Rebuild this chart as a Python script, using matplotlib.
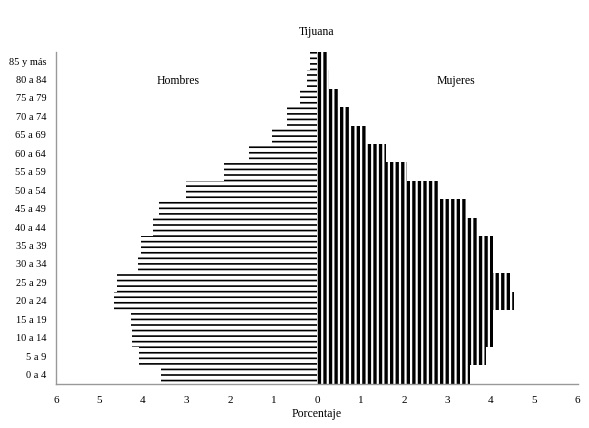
import matplotlib.pyplot as plt

grupos = ['0 a 4', '5 a 9', '10 a 14', '15 a 19', '20 a 24', '25 a 29', '30 a 34',
          '35 a 39', '40 a 44', '45 a 49', '50 a 54', '55 a 59', '60 a 64', '65 a 69',
          '70 a 74', '75 a 79', '80 a 84', '85 y más']
hombres = [3.59, 4.09, 4.25, 4.28, 4.67, 4.60, 4.12, 4.05, 3.77, 3.63,
           3.01, 2.14, 1.56, 1.03, 0.69, 0.39, 0.23, 0.16]
mujeres = [3.53, 3.90, 4.06, 4.06, 4.54, 4.43, 4.06, 4.04, 3.69, 3.42,
           2.84, 2.08, 1.60, 1.12, 0.75, 0.50, 0.27, 0.25]
xticks = [-6, -5, -4, -3, -2, -1, 0, 1, 2, 3, 4, 5, 6]

plt.rcParams['font.family'] = ['Liberation Serif', 'DejaVu Serif']

fig = plt.figure(figsize=(5.89, 4.28), dpi=100)
ax = fig.add_axes([0.095, 0.103, 0.886, 0.776])

ind = list(range(len(grupos)))
neg = [-v for v in hombres]
b1 = ax.barh(ind, neg, height=1.0, color='white', edgecolor='black',
             linewidth=0, hatch='---')
b2 = ax.barh(ind, mujeres, height=1.0, color='white', edgecolor='black',
             linewidth=0, hatch='|||')
for p in b1:
    try:
        p.set_hatch_linewidth(1.2)
    except AttributeError:
        pass
for p in b2:
    try:
        p.set_hatch_linewidth(2.4)
    except AttributeError:
        pass

ax.set_xlim(-6, 6)
ax.set_ylim(-0.5, len(grupos) - 0.5)
ax.set_xticks(xticks)
ax.set_xticklabels([str(abs(t)) for t in xticks], fontsize=8)
ax.set_yticks(ind)
ax.set_yticklabels(grupos, fontsize=7.5)
ax.tick_params(axis='x', length=0, pad=9)
ax.tick_params(axis='y', length=0, pad=7)

for s in ['top', 'right']:
    ax.spines[s].set_visible(False)
for s in ['left', 'bottom']:
    ax.spines[s].set_color('#999999')
    ax.spines[s].set_linewidth(1)

ax.set_title('Tijuana', fontsize=8.5, pad=12)
ax.set_xlabel('Porcentaje', fontsize=8.5, labelpad=2)
ax.text(-3.2, 15.9, 'Hombres', fontsize=8.5, ha='center', va='center')
ax.text(3.2, 15.9, 'Mujeres', fontsize=8.5, ha='center', va='center')

plt.savefig('out.png', dpi=100)
